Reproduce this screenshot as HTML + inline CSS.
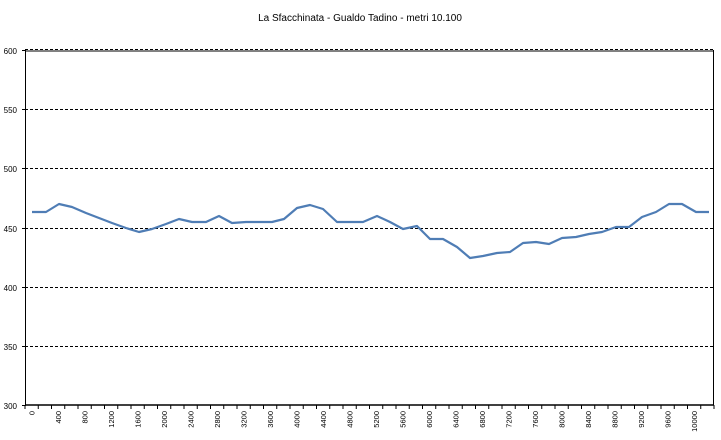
<!DOCTYPE html>
<html><head><meta charset="utf-8"><style>
html,body{margin:0;padding:0;background:#fff;}
svg{display:block;font-family:"Liberation Sans",sans-serif;}
</style></head><body>
<svg width="721" height="440" viewBox="0 0 721 440" xmlns="http://www.w3.org/2000/svg">
<text x="360" y="21" font-size="10" text-anchor="middle" fill="#000">La Sfacchinata - Gualdo Tadino - metri 10.100</text>
<g stroke="#000" stroke-width="1" stroke-dasharray="3,2">
<line x1="25" y1="109.5" x2="714" y2="109.5"/>
<line x1="25" y1="168.5" x2="714" y2="168.5"/>
<line x1="25" y1="228.5" x2="714" y2="228.5"/>
<line x1="25" y1="287.5" x2="714" y2="287.5"/>
<line x1="25" y1="346.5" x2="714" y2="346.5"/>
<line x1="25" y1="49.5" x2="714" y2="49.5"/>
</g>
<g stroke="#000" stroke-width="1" fill="none">
<line x1="25" y1="51" x2="714" y2="51"/>
<line x1="713.5" y1="50" x2="713.5" y2="405"/>
<line x1="25.5" y1="50" x2="25.5" y2="406"/>
<line x1="25" y1="405" x2="714" y2="405" stroke-width="1.5"/>
<line x1="22" y1="50.5" x2="25" y2="50.5"/>
<line x1="22" y1="109.5" x2="25" y2="109.5"/>
<line x1="22" y1="168.5" x2="25" y2="168.5"/>
<line x1="22" y1="228.5" x2="25" y2="228.5"/>
<line x1="22" y1="287.5" x2="25" y2="287.5"/>
<line x1="22" y1="346.5" x2="25" y2="346.5"/>
<line x1="22" y1="405.5" x2="25" y2="405.5"/>
</g>
<g font-size="8" text-anchor="end" fill="#000">
<text x="17" y="54">600</text><text x="17" y="113">550</text><text x="17" y="172">500</text>
<text x="17" y="232">450</text><text x="17" y="291">400</text><text x="17" y="350">350</text><text x="17" y="409">300</text>
</g>
<g id="ticks" stroke="#000" stroke-width="1"></g>
<g id="xl" font-size="7.5" fill="#000"></g>
<polyline fill="none" stroke="#4f7db5" stroke-width="2.2" stroke-linejoin="round" points="32,212 46,212 59,204 72,207 86,213 99,218 112,223 126,228 139,232 152,229 166,224 179,219 192,222 206,222 219,216 232,223 246,222 259,222 272,222 284,219 297,208 310,205 323,209 337,222 350,222 363,222 377,216 390,222 403,229 417,226 430,239 443,239 457,247 470,258 483,256 497,253 510,252 523,243 536,242 549,244 562,238 576,237 589,234 602,232 616,227 629,227 642,217 656,212 669,204 682,204 696,212 709,212"/>
</svg>
<script>
var t=document.getElementById('ticks'),xl=document.getElementById('xl'),ns='http://www.w3.org/2000/svg';
for(var i=0;i<=52;i++){var x=25+13.25*i;var l=document.createElementNS(ns,'line');l.setAttribute('x1',x);l.setAttribute('x2',x);l.setAttribute('y1',405);l.setAttribute('y2',409);t.appendChild(l);}
for(var k=0;k<=25;k++){var x=25+13.25*(2*k+0.5)+3;var s=document.createElementNS(ns,'text');s.setAttribute('transform','translate('+x+',411) rotate(-90)');s.setAttribute('text-anchor','end');s.textContent=String(k*400);xl.appendChild(s);}
</script>
</body></html>
